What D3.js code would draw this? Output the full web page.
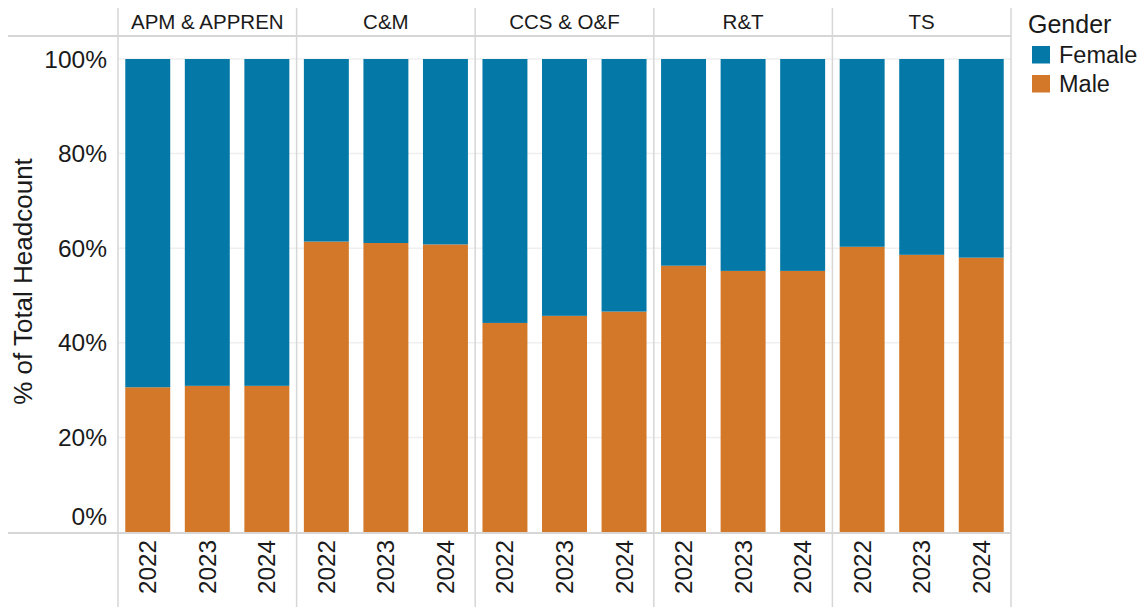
<!DOCTYPE html>
<html><head><meta charset="utf-8">
<script src="https://cdn.jsdelivr.net/npm/d3@7"></script>
<style>body{margin:0;background:#fff}svg{display:block;font-family:Arial,"Liberation Sans",sans-serif}</style>
</head><body><svg id="c" width="1147" height="607"></svg>
<script>
const groups = ["APM & APPREN","C&M","CCS & O&F","R&T","TS"];
const years = ["2022","2023","2024"];
const maleShare = [
  [30.6,30.9,30.9],
  [61.4,61.1,60.8],
  [44.2,45.7,46.6],
  [56.3,55.2,55.2],
  [60.3,58.6,58.0]
];
const yTicks = [0,20,40,60,80,100];
const genders = ["Female","Male"];
const colors = {Female:"#0479a7", Male:"#d37728"};

(function(){
const svg = d3.select("#c");
const pLeft=118, pRight=1011, pTop=59, pBottom=532, headerTop=8, headerBot=36;
const fx = d3.scaleBand().domain(groups).range([pLeft,pRight]);
const x = d3.scaleBand().domain(years).range([0,fx.bandwidth()]).paddingInner(0.245).paddingOuter(0.122);
const y = d3.scaleLinear().domain([0,100]).range([pBottom,pTop]);
const tc="#1a1a1a";

svg.append("g").selectAll("line").data(yTicks.filter(t=>t>0)).join("line")
  .attr("x1",pLeft).attr("x2",pRight).attr("y1",d=>y(d)).attr("y2",d=>y(d))
  .attr("stroke","#efefef").attr("stroke-width",1.5);

const rows=[];
groups.forEach((g,i)=>years.forEach((yr,j)=>{
  const m=maleShare[i][j];
  rows.push({g,yr,gender:"Male",y0:0,y1:m});
  rows.push({g,yr,gender:"Female",y0:m,y1:100});
}));
svg.append("g").selectAll("rect").data(rows).join("rect")
  .attr("x",d=>fx(d.g)+x(d.yr)).attr("width",x.bandwidth())
  .attr("y",d=>y(d.y1)).attr("height",d=>y(d.y0)-y(d.y1))
  .attr("fill",d=>colors[d.gender]);

const lc="#d6d6d6";
svg.append("line").attr("x1",8).attr("x2",pRight).attr("y1",headerBot).attr("y2",headerBot).attr("stroke",lc).attr("stroke-width",2);
svg.append("line").attr("x1",8).attr("x2",pRight).attr("y1",pBottom+1).attr("y2",pBottom+1).attr("stroke",lc).attr("stroke-width",2);
const seps=groups.map(g=>fx(g)).concat([pRight]);
svg.append("g").selectAll("line").data(seps).join("line")
  .attr("x1",d=>d).attr("x2",d=>d).attr("y1",headerTop).attr("y2",607)
  .attr("stroke",lc).attr("stroke-width",1.5);

svg.append("g").selectAll("text").data(groups).join("text")
  .attr("x",g=>fx(g)+fx.bandwidth()/2).attr("y",28.5).attr("text-anchor","middle")
  .attr("font-size",20.5).attr("fill",tc).text(g=>g);

svg.append("g").selectAll("text").data(yTicks).join("text")
  .attr("x",107).attr("y",d=>d===0?525:y(d)+8.5).attr("text-anchor","end")
  .attr("font-size",24.5).attr("fill",tc).text(d=>d+"%");
svg.append("text").attr("transform","translate(31.5,281.5) rotate(-90)")
  .attr("text-anchor","middle").attr("font-size",26).attr("fill",tc).text("% of Total Headcount");

groups.forEach(g=>{
  svg.append("g").selectAll("text").data(years).join("text")
    .attr("transform",d=>`translate(${fx(g)+x(d)+x.bandwidth()/2+8.5},540) rotate(-90)`)
    .attr("text-anchor","end").attr("font-size",24.3).attr("fill",tc).text(d=>d);
});

const lg=svg.append("g").attr("transform","translate(1028,0)");
lg.append("text").attr("x",0).attr("y",33).attr("font-size",25).attr("fill",tc).text("Gender");
const items=lg.selectAll("g").data(genders).join("g").attr("transform",(d,i)=>`translate(0,${46+i*29})`);
items.append("rect").attr("x",4).attr("y",0).attr("width",18).attr("height",17.5).attr("fill",d=>colors[d]);
items.append("text").attr("x",31).attr("y",17).attr("font-size",23.5).attr("fill",tc).text(d=>d);
})();
</script></body></html>
